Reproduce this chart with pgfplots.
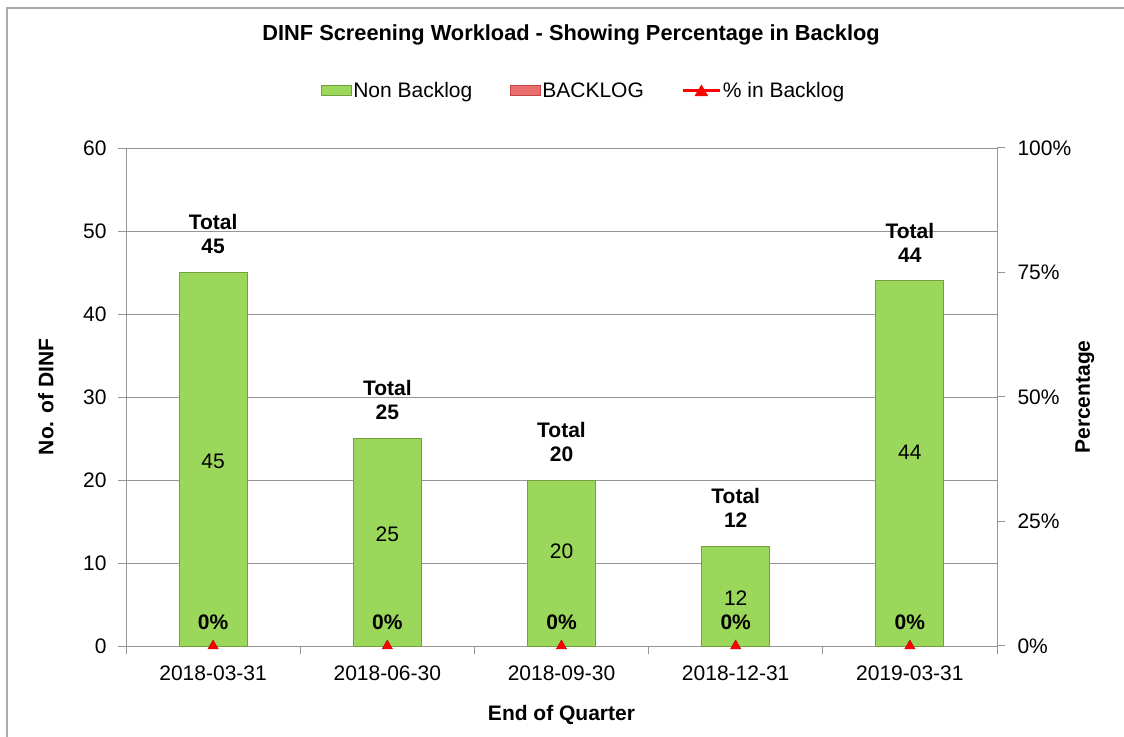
\documentclass[border=0pt]{standalone}
\usepackage{pgfplots}
\usepackage{pgfplotstable}
\pgfplotsset{compat=1.18}
\usepackage{fontspec}
\setmainfont{Liberation Sans}
\definecolor{barGreen}{RGB}{155,215,90}
\definecolor{barEdge}{RGB}{115,160,60}
\definecolor{barRed}{RGB}{235,110,110}
\definecolor{barRedEdge}{RGB}{190,70,70}
\definecolor{axgray}{RGB}{150,150,150}
\definecolor{framegray}{RGB}{170,170,170}
\newcommand{\f}{\fontsize{21}{24}\selectfont}

\pgfplotstableread{
x total mid
0 45 22.2
1 25 13.5
2 20 11.4
3 12 5.8
4 44 23.3
}\datatable

\pgfplotstableread{
x pct
0 0
1 0
2 0
3 0
4 0
}\pcttable

\begin{document}
\begin{tikzpicture}
\path[use as bounding box] (0pt,0pt) rectangle (1124pt,736pt);
\draw[framegray, line width=1.5pt] (7pt,728pt) rectangle (1140pt,-10pt);
\begin{axis}[
  at={(126pt,90pt)}, anchor=south west,
  scale only axis, width=871pt, height=498pt,
  xmin=-0.5, xmax=4.5, ymin=0, ymax=60,
  ytick={0,10,...,60},
  xtick={-0.5,0.5,...,4.5}, xticklabels={},
  extra x ticks={0,1,2,3,4},
  extra x tick labels={2018-03-31,2018-06-30,2018-09-30,2018-12-31,2019-03-31},
  extra x tick style={major tick length=0pt, grid=none},
  axis x line*=bottom, axis y line*=left,
  axis line style={axgray, line width=1pt},
  tick style={axgray, line width=1pt},
  tick align=outside, major tick length=8pt,
  ymajorgrids, grid style={axgray, line width=1pt},
  ticklabel style={font=\f},
  /pgf/number format/assume math mode=true,
  xticklabel style={yshift=-16pt},
  yticklabel style={xshift=-8pt},
  ylabel={No. of DINF},
  ylabel style={at={(axis description cs:-0.092,0.5)}, anchor=center, font=\f\bfseries},
  xlabel={End of Quarter},
  xlabel style={at={(axis description cs:0.5,-0.1386)}, anchor=center, font=\f\bfseries},
  title={DINF Screening Workload - Showing Percentage in Backlog},
  title style={at={(axis description cs:0.511,1.215)}, anchor=center, font=\fontsize{21.8}{25}\selectfont\bfseries},
  clip=false,
]
\addplot[ybar, bar width=0.39, fill=barGreen, draw=barEdge, line width=1pt,
  nodes near coords={Total\\\pgfmathprintnumber{\pgfplotspointmeta}},
  nodes near coords style={align=center, font=\f\bfseries, anchor=south, inner sep=0pt, yshift=18pt, text=black}]
  table[x=x, y=total] {\datatable};
\addplot[draw=none, mark=none, point meta=explicit,
  nodes near coords={\pgfmathprintnumber{\pgfplotspointmeta}},
  nodes near coords style={anchor=center, font=\f, text=black}]
  table[x=x, y=mid, meta=total] {\datatable};
\end{axis}
\begin{axis}[
  at={(126pt,90pt)}, anchor=south west,
  scale only axis, width=871pt, height=498pt,
  xmin=-0.5, xmax=4.5, ymin=0, ymax=100,
  axis x line=none, axis y line*=right,
  axis line style={axgray, line width=1pt},
  tick style={axgray, line width=1pt},
  tick align=outside, major tick length=8pt,
  ytick={0,25,...,100},
  yticklabel={\pgfmathprintnumber{\tick}\%},
  ticklabel style={font=\f},
  yticklabel style={xshift=9pt},
  /pgf/number format/assume math mode=true,
  ylabel={Percentage},
  ylabel style={at={(axis description cs:1.101,0.5)}, anchor=center, font=\f\bfseries},
  clip=false,
  legend columns=3,
  legend style={at={(axis description cs:0.525,1.1145)}, anchor=center, draw=none, font=\f,
    nodes={inner sep=1.5pt},
    /tikz/every even column/.append style={column sep=36pt}},
]
\addlegendimage{legend image code/.code={\draw[fill=barGreen, draw=barEdge, line width=1pt] (0pt,-5pt) rectangle (30pt,5pt);}}
\addlegendentry{Non Backlog}
\addlegendimage{legend image code/.code={\draw[fill=barRed, draw=barRedEdge, line width=1pt] (0pt,-5pt) rectangle (30pt,5pt);}}
\addlegendentry{BACKLOG}
\addplot[only marks, mark=triangle*, mark size=6pt, mark options={fill=red, draw=red!70!black},
  point meta=y,
  nodes near coords={\pgfmathprintnumber{\pgfplotspointmeta}\%},
  nodes near coords style={anchor=base, font=\f\bfseries, inner sep=0pt, yshift=16pt, text=black},
  legend image code/.code={\draw[red, line width=3pt] (0pt,0pt) -- (37pt,0pt);
     \fill[red] (12pt,-5pt) -- (25pt,-5pt) -- (18.5pt,6pt) -- cycle;}]
  table[x=x, y=pct] {\pcttable};
\addlegendentry{\% in Backlog}
\end{axis}
\end{tikzpicture}
\end{document}
